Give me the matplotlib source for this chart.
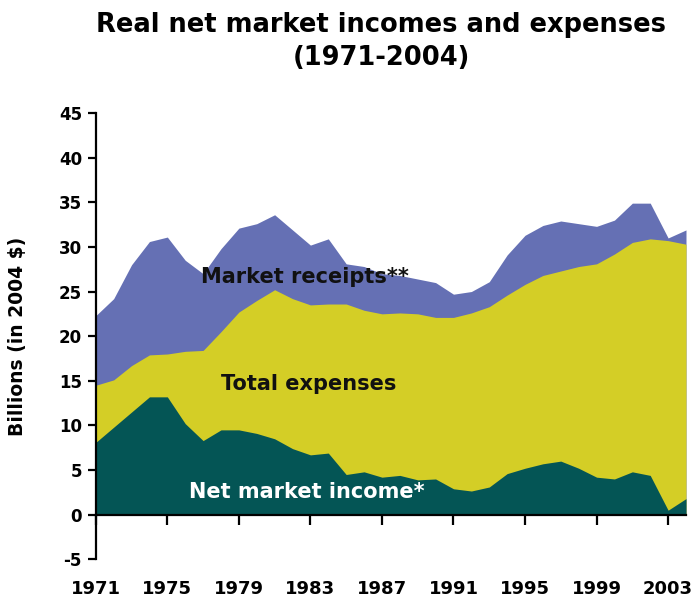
import matplotlib
matplotlib.use("Agg")
import matplotlib.pyplot as plt

years = list(range(1971, 2005))
market_receipts = [22.3, 24.2, 28.0, 30.6, 31.1, 28.5, 27.0, 29.8, 32.1, 32.6,
                   33.6, 31.9, 30.2, 30.9, 28.1, 27.8, 27.0, 26.8, 26.4, 26.0,
                   24.7, 25.0, 26.1, 29.1, 31.3, 32.4, 32.9, 32.6, 32.3, 33.0,
                   34.9, 34.9, 31.0, 31.9]
total_expenses = [14.5, 15.1, 16.7, 17.9, 18.0, 18.3, 18.4, 20.5, 22.7, 24.0,
                  25.2, 24.2, 23.5, 23.6, 23.6, 22.9, 22.5, 22.6, 22.5, 22.1,
                  22.1, 22.6, 23.3, 24.6, 25.8, 26.8, 27.3, 27.8, 28.1, 29.2,
                  30.5, 30.9, 30.7, 30.3]
net_income = [8.1, 9.8, 11.5, 13.2, 13.2, 10.2, 8.3, 9.5, 9.5, 9.1,
              8.5, 7.4, 6.7, 6.9, 4.5, 4.8, 4.2, 4.4, 3.9, 4.0,
              2.9, 2.65, 3.1, 4.6, 5.2, 5.7, 6.0, 5.2, 4.2, 4.0,
              4.8, 4.4, 0.5, 1.8]
x_tick_labels = list(range(1971, 2004, 4))
y_ticks = list(range(-5, 50, 5))

c_rec = "#6570B4"
c_exp = "#D4CE26"
c_net = "#045555"

W, H = 697, 601
fig = plt.figure(figsize=(W / 100, H / 100), dpi=100)
left, right = 95.8 / W, 686 / W
bottom, top = 1 - 559.3 / H, 1 - 113 / H
ax = fig.add_axes([left, bottom, right - left, top - bottom])

ax.fill_between(years, 0, market_receipts, color=c_rec, lw=0)
ax.fill_between(years, 0, total_expenses, color=c_exp, lw=0)
ax.fill_between(years, 0, net_income, color=c_net, lw=0)

for s in ["top", "right"]:
    ax.spines[s].set_visible(False)
ax.spines["bottom"].set_position(("data", 0))
ax.spines["left"].set_linewidth(1.6)
ax.spines["bottom"].set_linewidth(1.6)

ax.set_xlim(1971, 2004)
ax.set_ylim(-5, 45)
ax.set_yticks(y_ticks)
ax.set_yticklabels([str(v) for v in y_ticks], fontweight="bold", fontsize=12)
ax.set_xticks(x_tick_labels)
ax.set_xticklabels([str(v) for v in x_tick_labels], fontweight="bold", fontsize=13)

ax.tick_params(axis="y", direction="out", length=6, width=1.6, pad=4)
ax.tick_params(axis="x", direction="out", length=7, width=1.6, pad=40)

ax.set_ylabel("Billions (in 2004 $)", fontweight="bold", fontsize=13.5)
ax.yaxis.set_label_coords(-0.1166, 0.5)

ax.text(1976.9, 26.6, "Market receipts**", fontweight="bold", fontsize=15,
        color="#111111", va="center", ha="left")
ax.text(1978.0, 14.6, "Total expenses", fontweight="bold", fontsize=15,
        color="#111111", va="center", ha="left")
ax.text(1976.2, 2.5, "Net market income*", fontweight="bold", fontsize=15,
        color="white", va="center", ha="left")

fig.text(381 / W, 1 - 25 / H, "Real net market incomes and expenses",
         fontweight="bold", fontsize=18.5, ha="center", va="center")
fig.text(381 / W, 1 - 58 / H, "(1971-2004)",
         fontweight="bold", fontsize=18.5, ha="center", va="center")

fig.savefig("out.png", dpi=100)
